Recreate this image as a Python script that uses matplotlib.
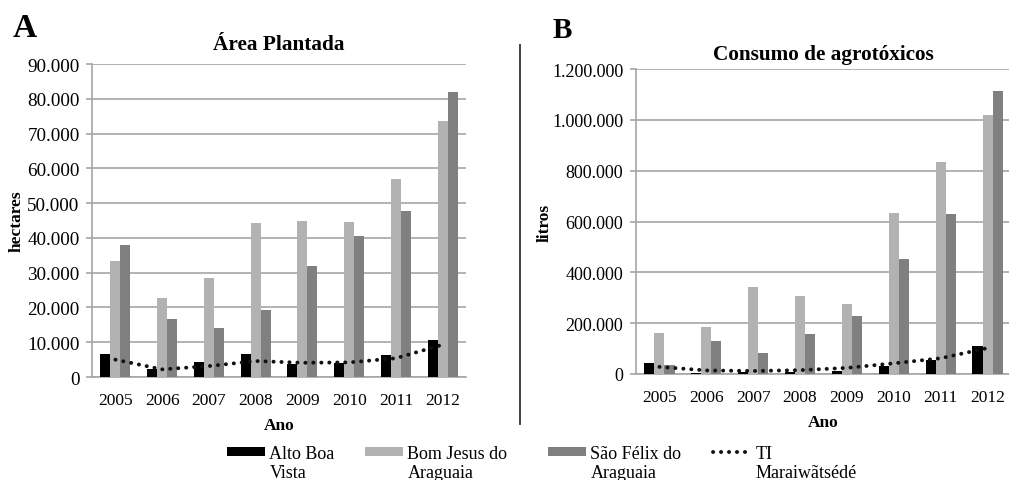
import numpy as np
import matplotlib
matplotlib.use("Agg")
import matplotlib.pyplot as plt
from matplotlib.ticker import FuncFormatter, MultipleLocator

plt.rcParams['font.family'] = ['Liberation Serif', 'DejaVu Serif']

# data
years = ['2005', '2006', '2007', '2008', '2009', '2010', '2011', '2012']

# A - planted area (hectares)
area_alto = [6600, 2400, 4300, 6600, 3800, 4000, 6200, 10700]
area_bom = [33400, 22700, 28500, 44300, 45000, 44600, 57000, 73600]
area_sao = [38000, 16700, 14100, 19300, 32000, 40500, 47800, 82000]
area_ti = [5000, 2200, 3150, 4600, 4100, 4200, 5400, 9300]

# B - pesticide use (litres)
agro_alto = [42000, 5000, 9000, 8000, 13000, 33000, 55000, 109000]
agro_bom = [161000, 185000, 341000, 305000, 276000, 632000, 836000, 1020000]
agro_sao = [36000, 131000, 81000, 157000, 228000, 454000, 628000, 1115000]
agro_ti = [28000, 14000, 12000, 15000, 24000, 42000, 62000, 102000]

labels = ['Alto Boa\nVista', 'Bom Jesus do\nAraguaia', 'São Félix do\nAraguaia', 'TI\nMaraiwãtsédé']
colors = ['#000000', '#b2b2b2', '#808080']
grid_col = '#a6a6a6'


def thousands(v, pos):
    return '{:,.0f}'.format(v).replace(',', '.')


def draw(ax, alto, bom, sao, ti, ymax, step, ylabel, title, tpad, ysize):
    x = np.arange(len(years))
    w = 0.215
    b1 = ax.bar(x - w, alto, w, color=colors[0], zorder=3)
    b2 = ax.bar(x, bom, w, color=colors[1], zorder=3)
    b3 = ax.bar(x + w, sao, w, color=colors[2], zorder=3)
    ln, = ax.plot(x, ti, color='#111111', lw=2.8, linestyle=(0, (0.05, 2.0)),
                  dash_capstyle='round', zorder=4)
    ax.set_xlim(-0.5, len(years) - 0.5)
    ax.set_ylim(0, ymax)
    ax.yaxis.set_major_locator(MultipleLocator(step))
    ax.yaxis.set_major_formatter(FuncFormatter(thousands))
    ax.set_xticks(x)
    ax.set_xticklabels(years)
    ax.grid(axis='y', color=grid_col, lw=1.2, zorder=0)
    for s in ['top', 'right']:
        ax.spines[s].set_visible(False)
    ax.spines['left'].set_color(grid_col)
    ax.spines['bottom'].set_color(grid_col)
    ax.spines['left'].set_linewidth(1.2)
    ax.spines['bottom'].set_linewidth(1.2)
    ax.tick_params(axis='y', length=4, width=1.2, color=grid_col, labelsize=ysize, pad=5)
    ax.tick_params(axis='x', length=0, labelsize=12.5, pad=11)
    ax.set_xlabel('Ano', fontsize=12.5, fontweight='bold', labelpad=6)
    ax.set_ylabel(ylabel, fontsize=12.5, fontweight='bold')
    ax.set_title(title, fontsize=15.3, fontweight='bold', pad=tpad)
    return [b1, b2, b3, ln]


fig = plt.figure(figsize=(10.09, 4.81), dpi=100)
axA = fig.add_axes([0.0912, 0.2141, 0.3707, 0.6507])
axB = fig.add_axes([0.6303, 0.2204, 0.3717, 0.634])

handles = draw(axA, area_alto, area_bom, area_sao, area_ti, 90000, 10000, 'hectares', 'Área Plantada', 11, 13.8)
draw(axB, agro_alto, agro_bom, agro_sao, agro_ti, 1200000, 200000, 'litros', 'Consumo de agrotóxicos', 7, 13)
axA.yaxis.set_label_coords(-0.181, 0.5)
axB.yaxis.set_label_coords(-0.223, 0.5)

fig.text(0.013, 1 - 37 / 481, 'A', fontsize=24, fontweight='bold', ha='left', va='baseline')
fig.text(0.548, 1 - 38 / 481, 'B', fontsize=21, fontweight='bold', ha='left', va='baseline')

# separator line between panels
fig.add_artist(plt.Line2D([0.5155, 0.5155], [1 - 46 / 481, 1 - 425 / 481], color='#333333', lw=1.3))

# legend: one entry per column, second line of each label set under the first
W, H = 1009, 481
leg_x = [227, 365, 548, 713]
legs = []
for h, lab, x0 in zip(handles, labels, leg_x):
    first, second = lab.split('\n')
    lg = fig.legend([h], [first], loc='upper left', bbox_to_anchor=(x0 / W, 1 - 446 / H),
                    frameon=False, fontsize=13, handlelength=2.1, handleheight=0.42,
                    handletextpad=0.25, borderpad=0, borderaxespad=0)
    legs.append((lg, second))

fig.canvas.draw()
for lg, second in legs:
    bb = lg.get_texts()[0].get_window_extent()
    fig.text(bb.x0 / W, (bb.y0 - 2) / H, second, fontsize=13, ha='left', va='top')

fig.savefig('out.png', dpi=100)
